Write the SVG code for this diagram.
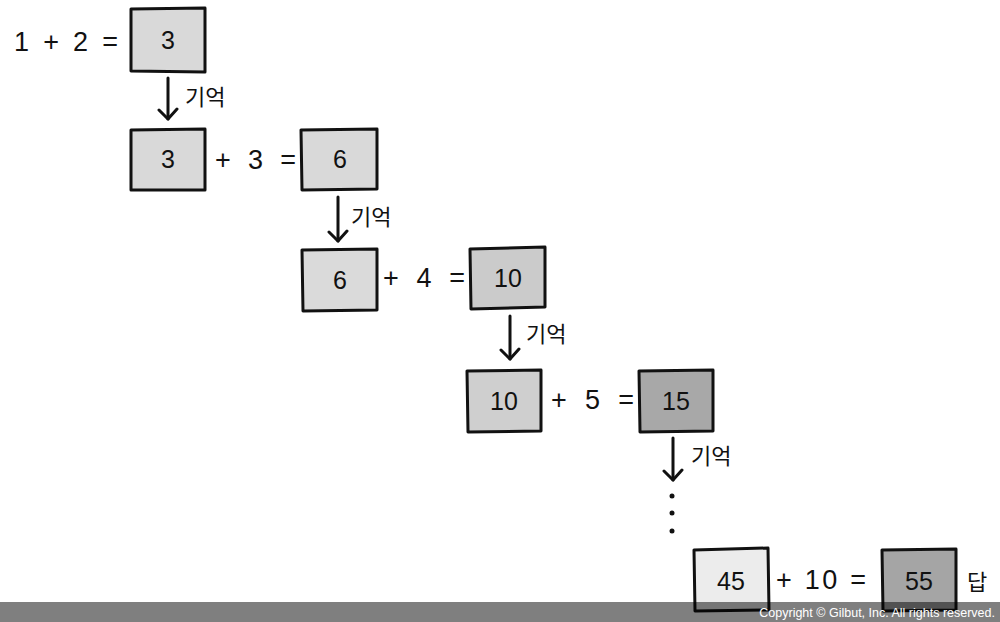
<svg xmlns="http://www.w3.org/2000/svg" width="1000" height="622" viewBox="0 0 1000 622">
<defs>
<style>
.box{stroke:#111;stroke-width:3;stroke-linejoin:round}
.num{font-family:"Liberation Sans",Arial,sans-serif;font-size:25px;fill:#111;text-anchor:middle}
.eq{font-family:"Liberation Sans",Arial,sans-serif;font-size:27px;fill:#111}
.lbl{font-family:"Noto Sans CJK KR","Noto Sans",sans-serif;font-size:22px;fill:#111}
.arr{stroke:#111;stroke-width:3;fill:none;stroke-linecap:round}
</style>
<marker id="ah" viewBox="0 0 14 22" refX="12" refY="11" markerWidth="14" markerHeight="22" markerUnits="userSpaceOnUse" orient="auto">
<polyline points="2,2 12,11 3,20" fill="none" stroke="#111" stroke-width="3" stroke-linecap="round" stroke-linejoin="round"/>
</marker>
</defs>
<rect width="1000" height="622" fill="#fff"/>

<text class="eq" x="14" y="51" textLength="104">1 + 2 =</text>
<text class="eq" x="215" y="169" textLength="81">+ 3 =</text>
<text class="eq" x="383" y="287" textLength="82">+ 4 =</text>
<text class="eq" x="551" y="409" textLength="83">+ 5 =</text>
<text class="eq" x="776" y="589" textLength="90">+ 10 =</text>
<text class="lbl" x="967" y="590" font-size="27">답</text>

<g id="n1"><path class="box" d="M131,9 L205,8 L205,72 L131,71 Z" fill="#d9d9d9"/><text class="num" x="168" y="49">3</text></g>
<g id="n2"><path class="box" d="M131,130 L205,129 L205,190 L131,190 Z" fill="#d9d9d9"/><text class="num" x="168" y="168">3</text></g>
<g id="n3"><path class="box" d="M301,130 L377,129 L377,189 L302,190 Z" fill="#d9d9d9"/><text class="num" x="340" y="168">6</text></g>
<g id="n4"><path class="box" d="M302,250 L377,249 L377,310 L303,311 Z" fill="#dadada"/><text class="num" x="340" y="289">6</text></g>
<g id="n5"><path class="box" d="M470,249 L545,247 L545,307 L471,309 Z" fill="#cbcbcb"/><text class="num" x="508" y="287">10</text></g>
<g id="n6"><path class="box" d="M467,371 L541,370 L541,431 L468,432 Z" fill="#cfcfcf"/><text class="num" x="504" y="410">10</text></g>
<g id="n7"><path class="box" d="M639,371 L713,370 L713,431 L640,432 Z" fill="#a8a8a8"/><text class="num" x="676" y="410">15</text></g>
<g id="n8"><path class="box" d="M694,550 L768,548 L769,610 L695,611 Z" fill="#ececec"/><text class="num" x="731" y="590">45</text></g>
<g id="n9"><path class="box" d="M882,550 L956,549 L956,610 L883,611 Z" fill="#a5a5a5"/><text class="num" x="919" y="590">55</text></g>

<g id="connectors">
<line class="arr" x1="168" y1="78" x2="168" y2="119" marker-end="url(#ah)"/>
<line class="arr" x1="338" y1="197" x2="338" y2="241" marker-end="url(#ah)"/>
<line class="arr" x1="510" y1="316" x2="510" y2="359" marker-end="url(#ah)"/>
<line class="arr" x1="673" y1="438" x2="673" y2="480" marker-end="url(#ah)"/>
<text class="lbl" x="185" y="105">기억</text>
<text class="lbl" x="351" y="225">기억</text>
<text class="lbl" x="526" y="342">기억</text>
<text class="lbl" x="691" y="464">기억</text>
<circle cx="672" cy="496" r="2.5" fill="#111"/>
<circle cx="672" cy="513" r="2.5" fill="#111"/>
<circle cx="672" cy="531" r="2.5" fill="#111"/>
</g>

<rect x="0" y="602" width="1000" height="20" fill="#000" opacity="0.5"/>
<text x="995" y="617" text-anchor="end" font-family="Liberation Sans,Arial,sans-serif" font-size="12.5" fill="#fff">Copyright © Gilbut, Inc. All rights reserved.</text>
</svg>
